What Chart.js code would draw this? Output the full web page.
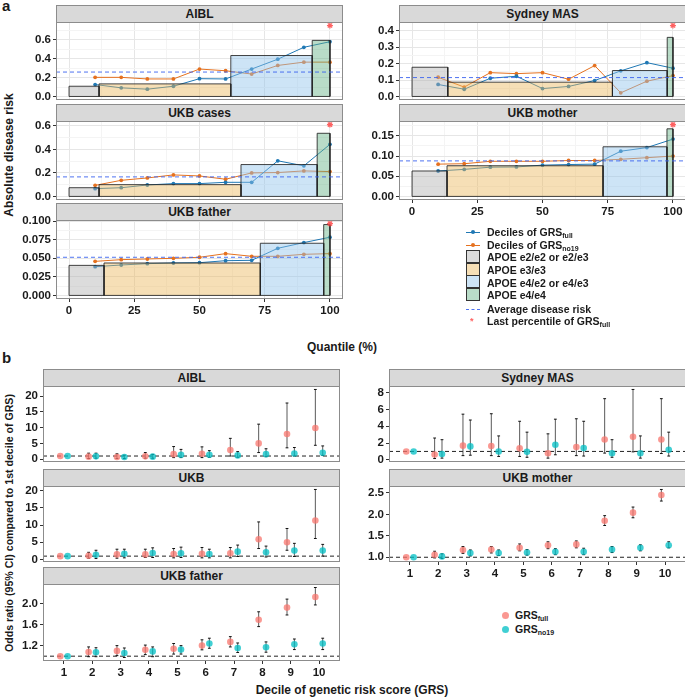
<!DOCTYPE html>
<html>
<head>
<meta charset="utf-8">
<script src="https://cdn.jsdelivr.net/npm/chart.js@4.4.0/dist/chart.umd.min.js"></script>
<style>
body{margin:0;background:#fff;width:685px;height:697px;position:relative;overflow:hidden;font-family:"Liberation Sans",Arial,sans-serif;color:#1a1a1a;}
canvas{position:absolute;}
.strip{position:absolute;background:#d9d9d9;border:1px solid #8c8c8c;box-sizing:border-box;font-weight:bold;font-size:12px;text-align:center;}
.txt{position:absolute;font-weight:bold;white-space:nowrap;}
.ytitle{position:absolute;font-weight:bold;font-size:12px;white-space:nowrap;transform:translate(-50%,-50%) rotate(-90deg);}
.xtitle{position:absolute;font-weight:bold;font-size:12px;white-space:nowrap;transform:translate(-50%,-50%);}
.leg{position:absolute;font-size:10.5px;font-weight:bold;white-space:nowrap;transform:translateY(-50%);}
.leg sub{font-size:7px;vertical-align:-2px;}
.key{position:absolute;box-sizing:border-box;}
</style>
</head>
<body>
<div class="txt" style="left:2px;top:-3px;font-size:15px;">a</div>
<div class="txt" style="left:2px;top:349px;font-size:15px;">b</div>
<div class="ytitle" style="left:9px;top:155px;">Absolute disease risk</div>
<div class="xtitle" style="left:342px;top:347px;">Quantile (%)</div>
<div class="ytitle" style="left:9px;top:523px;font-size:10.6px;">Odds ratio (95% CI) compared to 1st decile of GRS)</div>
<div class="xtitle" style="left:352px;top:690px;">Decile of genetic risk score (GRS)</div>
<script>
// ---------- a: absolute disease risk by GRS quantile ----------
var quantiles = [10, 20, 30, 40, 50, 60, 70, 80, 90, 100];
var quantileTicks = [0, 25, 50, 75, 100];
var apoeGroups = ['APOE e2/e2 or e2/e3', 'APOE e3/e3', 'APOE e4/e2 or e4/e3', 'APOE e4/e4'];

var aiblFull = [0.126, 0.091, 0.077, 0.108, 0.188, 0.185, 0.290, 0.394, 0.520, 0.579];
var aiblNo19 = [0.202, 0.202, 0.185, 0.185, 0.290, 0.272, 0.237, 0.328, 0.363, 0.363];
var aiblApoeCut = [0, 11.5, 62.0, 93.2, 100];
var aiblApoeRisk = [0.108, 0.133, 0.433, 0.593];
var aiblAvg = 0.258, aiblLast = 0.75;
var aiblRiskTicks = [0, 0.2, 0.4, 0.6];

var sydFull = [0.073, 0.044, 0.111, 0.123, 0.048, 0.061, 0.097, 0.156, 0.206, 0.172];
var sydNo19 = [0.117, 0.057, 0.145, 0.139, 0.145, 0.105, 0.188, 0.022, 0.093, 0.127];
var sydApoeCut = [0, 13.7, 76.8, 97.8, 100];
var sydApoeRisk = [0.178, 0.087, 0.158, 0.360];
var sydAvg = 0.115, sydLast = 0.432;
var sydRiskTicks = [0, 0.1, 0.2, 0.3, 0.4];

var casesFull = [0.066, 0.074, 0.097, 0.109, 0.109, 0.120, 0.120, 0.303, 0.260, 0.443];
var casesNo19 = [0.094, 0.137, 0.157, 0.183, 0.174, 0.146, 0.200, 0.203, 0.217, 0.211];
var casesApoeCut = [0, 11.5, 65.9, 95.1, 100];
var casesApoeRisk = [0.074, 0.100, 0.271, 0.537];
var casesAvg = 0.166, casesLast = 0.611;
var casesRiskTicks = [0, 0.2, 0.4, 0.6];

var motherFull = [0.063, 0.067, 0.0725, 0.073, 0.0775, 0.079, 0.080, 0.112, 0.121, 0.142];
var motherNo19 = [0.080, 0.081, 0.087, 0.087, 0.087, 0.089, 0.089, 0.092, 0.096, 0.100];
var motherApoeCut = [0, 13.4, 73.2, 97.7, 100];
var motherApoeRisk = [0.063, 0.076, 0.123, 0.1675];
var motherAvg = 0.088, motherLast = 0.178;
var motherRiskTicks = [0, 0.05, 0.10, 0.15];

var fatherFull = [0.0387, 0.0410, 0.0428, 0.0437, 0.0441, 0.0468, 0.0473, 0.0635, 0.0712, 0.0784];
var fatherNo19 = [0.0459, 0.0482, 0.0491, 0.0500, 0.0514, 0.0563, 0.0527, 0.0527, 0.0554, 0.0563];
var fatherApoeCut = [0, 13.4, 73.3, 97.6, 100];
var fatherApoeRisk = [0.0405, 0.0437, 0.0703, 0.0955];
var fatherAvg = 0.0514, fatherLast = 0.0968;
var fatherRiskTicks = [0, 0.025, 0.050, 0.075, 0.100];

// ---------- b: odds ratios by GRS decile ----------
var deciles = [1, 2, 3, 4, 5, 6, 7, 8, 9, 10];

var aiblOrFull = [1, 0.8, 0.7, 0.9, 1.6, 1.7, 2.9, 5.0, 8.0, 9.9];
var aiblLoFull = [1, 0.2, 0.2, 0.3, 0.5, 0.5, 1.0, 2.1, 3.6, 4.4];
var aiblHiFull = [1, 1.9, 1.7, 2.1, 4.0, 3.9, 6.6, 11.1, 17.8, 22.1];
var aiblOrNo19 = [1, 0.9, 0.7, 0.8, 1.4, 1.4, 1.2, 1.6, 1.8, 2.0];
var aiblLoNo19 = [1, 0.3, 0.2, 0.3, 0.5, 0.6, 0.6, 0.8, 1.0, 1.2];
var aiblHiNo19 = [1, 1.9, 1.25, 1.5, 3.1, 2.7, 2.4, 3.3, 3.7, 4.2];
var aiblOrTicks = [0, 5, 10, 15, 20];

var sydOrFull = [1, 0.63, 1.69, 1.65, 1.37, 0.78, 1.53, 2.43, 2.75, 2.43];
var sydLoFull = [1, 0.15, 0.5, 0.5, 0.4, 0.2, 0.5, 0.8, 0.95, 0.75];
var sydHiFull = [1, 2.6, 5.45, 5.5, 4.6, 3.1, 4.9, 7.3, 8.4, 7.3];
var sydOrNo19 = [1, 0.7, 1.6, 1.0, 0.95, 1.8, 1.4, 0.78, 0.78, 1.2];
var sydLoNo19 = [1, 0.2, 0.55, 0.4, 0.3, 0.6, 0.45, 0.3, 0.2, 0.45];
var sydHiNo19 = [1, 2.4, 4.75, 2.85, 3.3, 4.85, 4.6, 2.4, 2.85, 3.3];
var sydOrTicks = [0, 2, 4, 6, 8];

var ukbOrFull = [1, 1.1, 1.5, 1.5, 1.6, 1.7, 1.8, 5.9, 5.0, 11.3];
var ukbLoFull = [1, 0.4, 0.4, 0.6, 0.5, 0.5, 0.5, 3.2, 2.7, 6.1];
var ukbHiFull = [1, 2.1, 3.0, 3.0, 3.2, 3.5, 3.5, 10.9, 9.0, 20.3];
var ukbOrNo19 = [1, 1.4, 1.7, 1.9, 1.8, 1.6, 2.3, 2.1, 2.6, 2.6];
var ukbLoNo19 = [1, 0.3, 0.5, 0.6, 0.6, 0.5, 0.9, 0.75, 0.9, 1.0];
var ukbHiNo19 = [1, 2.7, 3.0, 3.4, 3.6, 3.0, 4.2, 3.9, 4.7, 4.4];
var ukbOrTicks = [0, 5, 10, 15, 20];

var momOrFull = [1, 1.06, 1.17, 1.18, 1.22, 1.28, 1.30, 1.85, 2.04, 2.45];
var momLoFull = [1, 0.985, 1.09, 1.10, 1.15, 1.20, 1.22, 1.74, 1.92, 2.31];
var momHiFull = [1, 1.14, 1.25, 1.25, 1.31, 1.36, 1.38, 1.97, 2.17, 2.58];
var momOrNo19 = [1, 1.02, 1.10, 1.10, 1.11, 1.13, 1.13, 1.18, 1.22, 1.28];
var momLoNo19 = [1, 0.97, 1.03, 1.04, 1.05, 1.06, 1.06, 1.11, 1.15, 1.22];
var momHiNo19 = [1, 1.08, 1.17, 1.17, 1.18, 1.20, 1.21, 1.25, 1.29, 1.36];
var momOrTicks = [1.0, 1.5, 2.0, 2.5];

var dadOrFull = [1, 1.08, 1.10, 1.12, 1.14, 1.20, 1.27, 1.69, 1.92, 2.12];
var dadLoFull = [1, 0.99, 1.01, 1.03, 1.04, 1.12, 1.175, 1.56, 1.78, 1.97];
var dadHiFull = [1, 1.175, 1.20, 1.21, 1.24, 1.31, 1.37, 1.84, 2.08, 2.30];
var dadOrNo19 = [1, 1.075, 1.06, 1.09, 1.125, 1.24, 1.155, 1.17, 1.225, 1.24];
var dadLoNo19 = [1, 0.99, 0.975, 0.99, 1.04, 1.15, 1.07, 1.075, 1.125, 1.125];
var dadHiNo19 = [1, 1.16, 1.155, 1.175, 1.20, 1.34, 1.25, 1.27, 1.325, 1.34];
var dadOrTicks = [1.2, 1.6, 2.0];

// ---------- styles ----------
var FONT = '"Liberation Sans", Arial, sans-serif';
Chart.defaults.font.family = FONT;
Chart.defaults.color = '#1a1a1a';
var blueCol = '#1f78b4', orangeCol = '#e5711f';
var apoeFill = ['rgba(177,177,177,0.45)', 'rgba(235,184,93,0.45)', 'rgba(144,195,235,0.45)', 'rgba(99,177,133,0.45)'];
var pinkCol = 'rgba(248,118,109,0.75)', tealCol = 'rgba(0,191,196,0.75)';
var avgCol = 'rgba(60,100,240,0.9)';
var DODGE = 0.13;

var panelBorder = {
    id: 'panelBorder',
    afterDatasetsDraw: function(chart){
        var a = chart.chartArea, ctx = chart.ctx;
        ctx.save();
        ctx.strokeStyle = '#8c8c8c';
        ctx.lineWidth = 1;
        ctx.strokeRect(a.left + 0.5, a.top + 0.5, a.right - a.left - 1, a.bottom - a.top - 1);
        ctx.restore();
    }
};

function minorOf(major, lim){
    var half = (major[1] - major[0]) / 2, out = [];
    for (var v = major[0] - half; v <= lim[1]; v += 2 * half) {
        if (v >= lim[0]) out.push(+v.toFixed(6));
    }
    return out;
}

function scaleOpts(axis, lim, major, minor, dec, show, fixed, gridOn){
    var all = major.concat(minor);
    return {
        type: 'linear', min: lim[0], max: lim[1],
        afterBuildTicks: function(s){ s.ticks = all.map(function(v){ return {value: v}; }); },
        afterFit: function(s){ if (axis === 'x') s.height = fixed; else s.width = fixed; },
        ticks: {
            display: show, autoSkip: false, maxRotation: 0, padding: 2,
            color: '#1a1a1a', font: {size: 11.5, weight: 'bold'},
            callback: function(v){ return major.indexOf(v) >= 0 ? v.toFixed(dec) : ''; }
        },
        grid: {
            display: true, drawOnChartArea: gridOn, drawTicks: show, tickLength: 3, lineWidth: 1,
            color: function(c){ return c.tick && major.indexOf(c.tick.value) >= 0 ? '#e6e6e6' : '#f4f4f4'; },
            tickColor: function(c){ return c.tick && major.indexOf(c.tick.value) >= 0 ? '#333' : 'rgba(0,0,0,0)'; }
        },
        border: {display: false}
    };
}

function addPanel(p){
    var l = p.box[0], t = p.box[1], r = p.box[2], b = p.box[3];
    var padT = 12, padR = 12, padB = 10, xH = p.showX ? 17 : 0;
    var w = p.yW + (r - l) + padR, h = padT + (b - t) + xH + padB;
    var cv = document.createElement('canvas');
    cv.width = w; cv.height = h;
    cv.style.left = (l - p.yW) + 'px';
    cv.style.top = (t - padT) + 'px';
    document.body.appendChild(cv);

    var st = document.createElement('div');
    st.className = 'strip';
    st.textContent = p.title;
    st.style.left = l + 'px'; st.style.top = (t - 17) + 'px';
    st.style.width = (r - l) + 'px'; st.style.height = '18px';
    st.style.lineHeight = '16px';
    document.body.appendChild(st);

    new Chart(cv, {
        type: 'line',
        data: {datasets: p.datasets},
        options: {
            responsive: false, animation: false,
            layout: {autoPadding: false, padding: {top: padT, right: padR, bottom: padB, left: 0}},
            plugins: {legend: {display: false}, tooltip: {enabled: false}},
            scales: {
                x: scaleOpts('x', p.xLim, p.xTicks, p.gridOn ? minorOf(p.xTicks, p.xLim) : [], 0, p.showX, xH, p.gridOn),
                y: scaleOpts('y', p.yLim, p.yTicks, p.gridOn ? minorOf(p.yTicks, p.yLim) : [], p.dec, true, p.yW, p.gridOn)
            }
        },
        plugins: [panelBorder]
    });
}

// a panels
var qLim = [-5, 105];
function riskPanel(title, box, full, no19, cut, risk, avg, last, ticks, dec, showX){
    var top = Math.max.apply(null, full.concat(no19, risk, [last]));
    var sets = [];
    sets.push({data: [{x: qLim[0], y: avg}, {x: qLim[1], y: avg}], borderColor: avgCol,
        borderDash: [4, 3], borderWidth: 1, pointRadius: 0, order: 0});
    sets.push({data: [{x: quantiles[quantiles.length - 1], y: last}], showLine: false, pointStyle: 'star',
        pointRadius: 3, pointBorderColor: 'rgba(255,70,70,0.85)', pointBorderWidth: 1.2, order: 0});
    for (var i = 0; i < risk.length; i++) {
        sets.push({
            data: [{x: cut[i], y: 0}, {x: cut[i], y: risk[i]}, {x: cut[i + 1], y: risk[i]}, {x: cut[i + 1], y: 0}, {x: cut[i], y: 0}],
            fill: 'shape', backgroundColor: apoeFill[i], borderColor: 'rgba(35,35,35,0.85)', borderWidth: 1,
            pointRadius: 0, order: 1, label: apoeGroups[i]
        });
    }
    [[full, blueCol], [no19, orangeCol]].forEach(function(s){
        sets.push({
            data: quantiles.map(function(q, k){ return {x: q, y: s[0][k]}; }),
            borderColor: s[1], borderWidth: 1, pointRadius: 1.9, pointBackgroundColor: s[1],
            pointBorderWidth: 0, order: 2
        });
    });
    addPanel({title: title, box: box, datasets: sets, xLim: qLim, xTicks: quantileTicks,
        yLim: [-0.05 * top, 1.05 * top], yTicks: ticks, dec: dec, yW: 40, showX: showX, gridOn: true});
}

riskPanel('AIBL', [56, 22, 343, 100], aiblFull, aiblNo19, aiblApoeCut, aiblApoeRisk, aiblAvg, aiblLast, aiblRiskTicks, 1, false);
riskPanel('UKB cases', [56, 121, 343, 200], casesFull, casesNo19, casesApoeCut, casesApoeRisk, casesAvg, casesLast, casesRiskTicks, 1, false);
riskPanel('UKB father', [56, 220, 343, 299], fatherFull, fatherNo19, fatherApoeCut, fatherApoeRisk, fatherAvg, fatherLast, fatherRiskTicks, 3, true);
riskPanel('Sydney MAS', [399, 22, 686, 100], sydFull, sydNo19, sydApoeCut, sydApoeRisk, sydAvg, sydLast, sydRiskTicks, 1, false);
riskPanel('UKB mother', [399, 121, 686, 200], motherFull, motherNo19, motherApoeCut, motherApoeRisk, motherAvg, motherLast, motherRiskTicks, 2, true);

// b panels
var dLim = [0.26, 10.74];
function orPanel(title, box, orF, loF, hiF, orN, loN, hiN, ticks, dec, showX){
    var mn = Math.min.apply(null, loF.concat(loN)), mx = Math.max.apply(null, hiF.concat(hiN));
    var pad = 0.05 * (mx - mn);
    var sets = [];
    sets.push({data: [{x: dLim[0], y: 1}, {x: dLim[1], y: 1}], borderColor: '#222', borderDash: [4, 3],
        borderWidth: 1, pointRadius: 0, order: 3});
    [[orF, loF, hiF, -DODGE, pinkCol], [orN, loN, hiN, DODGE, tealCol]].forEach(function(s){
        var bars = [];
        deciles.forEach(function(d, k){
            if (s[2][k] === s[1][k]) return;
            bars.push({x: d + s[3], y: s[1][k]}, {x: d + s[3], y: s[2][k]}, {x: d + s[3], y: null});
        });
        sets.push({data: bars, borderColor: 'rgba(60,60,60,0.85)', borderWidth: 1, pointStyle: 'line',
            pointRadius: 1.4, pointBorderColor: '#111', pointBorderWidth: 1, spanGaps: false, order: 2});
        sets.push({data: deciles.map(function(d, k){ return {x: d + s[3], y: s[0][k]}; }), showLine: false,
            pointRadius: 3.3, pointBackgroundColor: s[4], pointBorderWidth: 0, order: 1});
    });
    addPanel({title: title, box: box, datasets: sets, xLim: dLim, xTicks: deciles,
        yLim: [mn - pad, mx + pad], yTicks: ticks, dec: dec, yW: 30, showX: showX, gridOn: false});
}

orPanel('AIBL', [43, 386, 340, 462], aiblOrFull, aiblLoFull, aiblHiFull, aiblOrNo19, aiblLoNo19, aiblHiNo19, aiblOrTicks, 0, false);
orPanel('UKB', [43, 486, 340, 562], ukbOrFull, ukbLoFull, ukbHiFull, ukbOrNo19, ukbLoNo19, ukbHiNo19, ukbOrTicks, 0, false);
orPanel('UKB father', [43, 584, 340, 661], dadOrFull, dadLoFull, dadHiFull, dadOrNo19, dadLoNo19, dadHiNo19, dadOrTicks, 1, true);
orPanel('Sydney MAS', [389, 386, 686, 462], sydOrFull, sydLoFull, sydHiFull, sydOrNo19, sydLoNo19, sydHiNo19, sydOrTicks, 0, false);
orPanel('UKB mother', [389, 486, 686, 562], momOrFull, momLoFull, momHiFull, momOrNo19, momLoNo19, momHiNo19, momOrTicks, 1, true);

// ---------- legends ----------
function addEl(cls, css, html){
    var d = document.createElement('div');
    d.className = cls; d.style.cssText = css;
    if (html) d.innerHTML = html;
    document.body.appendChild(d);
    return d;
}
var legA = ['Deciles of GRS<sub>full</sub>', 'Deciles of GRS<sub>no19</sub>'].concat(apoeGroups,
    ['Average disease risk', 'Last percentile of GRS<sub>full</sub>']);
var legAY = [232, 245, 257, 270, 283, 295, 309, 321];
legA.forEach(function(txt, i){ addEl('leg', 'left:487px;top:' + legAY[i] + 'px;', txt); });
[blueCol, orangeCol].forEach(function(c, i){
    addEl('key', 'left:466px;top:' + (legAY[i] - 0.5) + 'px;width:14px;height:1px;background:' + c + ';');
    addEl('key', 'left:471px;top:' + (legAY[i] - 2) + 'px;width:4px;height:4px;border-radius:2px;background:' + c + ';');
});
apoeFill.forEach(function(c, i){
    addEl('key', 'left:466px;top:' + (250 + i * 12.7) + 'px;width:14px;height:13px;background:' + c + ';border:1.5px solid #333;');
});
addEl('key', 'left:466px;top:' + legAY[6] + 'px;width:14px;height:0;border-top:1px dashed ' + avgCol + ';');
addEl('leg', 'left:470px;top:' + legAY[7] + 'px;color:rgba(255,70,70,0.85);font-size:9px;', '*');

var legB = ['GRS<sub>full</sub>', 'GRS<sub>no19</sub>'];
[pinkCol, tealCol].forEach(function(c, i){
    var y = 615 + i * 14;
    addEl('key', 'left:502px;top:' + (y - 3.5) + 'px;width:7px;height:7px;border-radius:4px;background:' + c + ';');
    addEl('leg', 'left:515px;top:' + y + 'px;', legB[i]);
});
</script>
</body>
</html>
